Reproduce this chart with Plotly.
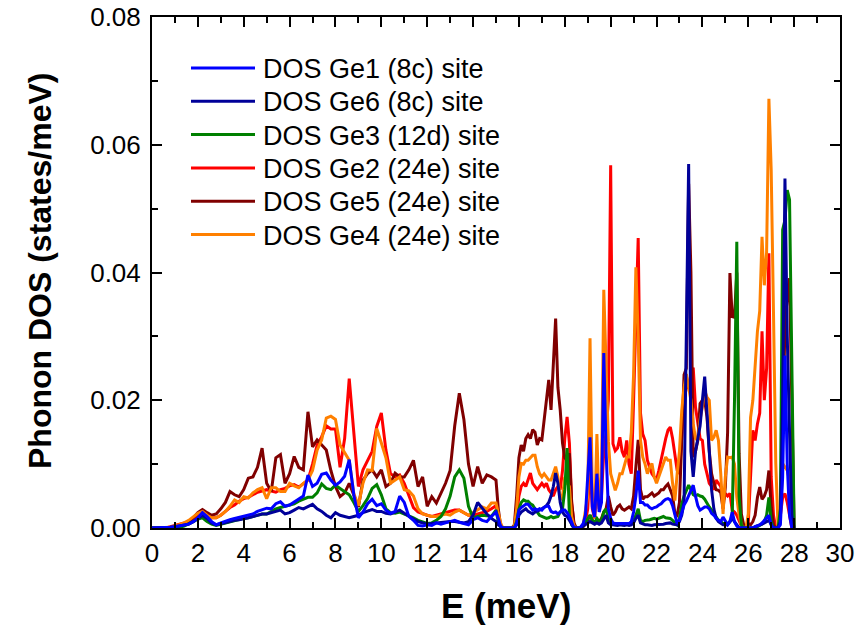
import plotly.graph_objects as go
import numpy as np

# Energy grid (meV): 0.2 meV steps up to 15 meV, 0.1 meV steps above
energy_low = [round(0.2 * i, 1) for i in range(76)]
energy_high = [round(15.1 + 0.1 * i, 1) for i in range(130)]
energy = energy_low + energy_high

# Partial phonon DOS values, in units of 1e-3 states/meV
ge1_low = [0,0,0,0,0.1,0.2,0.3,0.4,0.6,1.0,
           1.6,2.4,1.8,1.0,0.5,0.8,1.1,1.3,1.5,1.7,
           1.8,2.0,2.2,2.6,2.8,3.1,3.0,3.8,4.1,3.4,
           3.6,4.1,4.5,5.0,8.3,6.5,7.0,8.4,8.6,7.5,
           6.7,7.2,8.1,10.7,5.2,1.6,2.5,3.8,4.5,3.5,
           3.8,2.8,2.3,2.6,5.0,4.0,1.8,1.2,0.4,0.3,
           0.5,0.4,0.8,0.6,0.8,1.0,1.2,0.9,0.7,0.5,
           1.3,1.6,1.2,1.0,1.8,2.5]
ge1_high = [1.5,0.3,0,0,0,0,0,0,0.8,2.8,
            3.2,3.4,3.7,3.7,3.2,2.8,3.0,2.8,3.0,2.8,
            3.2,3.4,3.4,2.6,2.4,2.5,2.2,2.5,2.8,2.8,
            2.4,1.8,1.0,0,0,0,0.2,0.7,2.0,8.0,
            14.2,3.3,1.7,8.5,2.5,4.0,27.4,12.0,3.0,1.5,
            0.8,0.7,0.7,0.6,0.7,0.7,0.6,0.7,1.0,2.5,
            5.0,9.0,4.0,4.0,3.6,3.6,3.2,3.0,3.2,3.3,
            3.6,3.8,4.2,4.5,4.6,4.4,3.5,2.0,0.7,1.2,
            2.5,3.6,4.2,5.0,6.0,6.7,5.0,3.5,2.8,3.0,
            3.3,3.3,3.0,2.3,2.0,1.5,1.2,1.0,1.7,1.0,
            0.5,1.0,2.5,1.0,0.3,0,0,0,0,0,
            0,0,0.2,0.3,0.5,0.8,1.2,1.7,2.0,0.5,
            0,0,0,0.5,8.0,27.0,10.0,2.0,0,0]

ge6_low = [0,0,0,0,0.1,0.2,0.3,0.4,0.6,1.0,
           1.5,2.0,1.5,0.8,0.5,0.7,0.9,1.0,1.2,1.3,
           1.4,1.6,1.8,2.0,2.2,2.2,2.4,2.6,2.8,2.2,
           2.4,2.8,3.2,3.0,3.4,3.7,3.0,2.6,2.0,1.6,
           2.4,2.0,1.8,1.6,1.8,2.0,2.4,2.6,2.9,2.6,
           2.6,2.3,2.2,2.5,2.8,2.3,1.8,1.4,1.0,0.8,
           0.6,0.7,0.8,0.9,1.0,1.0,1.0,0.9,0.8,1.0,
           2.0,4.0,3.0,2.2,1.5,1.0]
ge6_high = [0.5,0.2,0,0,0,0,0,0,0.5,2.0,
            2.5,2.8,3.0,2.6,2.4,2.2,2.5,2.6,2.8,3.0,
            3.2,3.5,4.0,5.0,6.5,8.6,7.0,4.0,2.5,2.0,
            1.8,1.2,0.5,0,0,0,0,0.3,0.5,0.8,
            1.0,0.8,0.6,0.8,0.6,0.8,1.5,2.0,0.8,0.5,
            0.5,0.4,0.4,0.5,0.4,0.4,0.5,0.4,0.5,0.8,
            1.5,2.0,0.8,0.6,0.5,0.5,0.4,0.4,0.5,0.5,
            0.5,0.6,0.6,0.7,0.8,0.8,0.6,0.5,0.5,1.0,
            2.0,4.0,35.0,57.0,12.0,8.0,12.0,14.0,16.0,20.0,
            23.7,18.0,12.0,6.0,3.0,1.5,1.0,0.8,0.5,0.5,
            0.5,1.0,1.5,1.0,0.5,0,0,0,0,0,
            0,0,0.2,0.3,0.4,0.6,0.8,1.0,1.2,0.5,
            0,0,0,1.0,20.0,54.7,30.0,15.0,2.0,0]

ge3_low = [0,0,0,0,0,0,0.1,0.3,0.6,1.0,
           1.4,1.6,1.0,0.6,0.4,0.6,0.8,1.0,1.2,1.4,
           1.5,1.6,1.8,2.0,2.2,2.2,2.6,3.0,3.2,3.4,
           3.5,3.8,4.2,4.5,4.8,4.8,5.5,6.9,6.2,6.0,
           6.7,6.2,5.7,5.2,4.0,2.6,3.5,4.6,6.2,6.8,
           5.2,3.0,2.4,2.3,2.5,2.2,2.0,1.6,1.2,0.9,
           0.7,0.8,1.2,1.8,3.0,5.0,8.0,9.1,7.8,3.4,
           1.6,1.8,2.0,1.9,1.8,2.8]
ge3_high = [1.0,0.2,0,0,0,0,0,0,1.0,3.0,
            4.0,4.4,4.2,4.2,3.8,3.6,3.0,2.5,2.0,1.8,
            1.6,1.5,1.6,1.8,1.6,1.7,1.8,2.5,3.0,6.0,
            12.5,2.0,0.5,0,0,0,0,0.3,0.8,1.5,
            2.0,1.2,0.8,1.5,1.0,1.2,2.5,3.0,1.5,0.8,
            0.6,0.5,0.5,0.6,0.5,0.5,0.6,0.6,0.8,1.2,
            2.0,3.0,1.2,1.0,1.2,1.2,1.3,1.4,1.5,1.4,
            1.5,1.6,1.8,1.6,1.6,1.5,1.2,0.8,0.5,1.5,
            3.8,5.0,6.0,6.7,6.0,5.2,5.0,5.2,5.0,4.9,
            4.5,3.8,3.3,2.8,2.3,1.8,1.2,1.0,0.7,0.7,
            0.7,1.0,1.5,20.0,44.8,5.0,0.5,0,0,0,
            0,0,0,0.2,0.4,0.6,1.0,2.0,4.8,1.0,
            0,0,0,3.0,46.7,48.2,52.9,51.4,25.0,0]

ge2_low = [0,0,0,0,0.2,0.4,0.6,0.8,1.0,1.4,
           2.0,2.6,2.0,1.6,1.6,2.0,2.6,3.2,3.6,4.2,
           4.6,4.8,5.2,5.6,5.8,6.0,5.8,5.6,6.0,6.2,
           6.6,6.8,6.4,7.0,7.5,10.0,13.0,14.3,16.0,15.5,
           15.5,9.5,14.0,23.4,15.0,6.5,9.1,10.6,12.0,15.9,
           18.0,12.2,8.5,8.0,8.3,7.0,5.0,3.2,2.5,2.2,
           2.0,1.8,2.0,2.2,2.3,2.5,2.8,2.8,2.4,2.0,
           2.0,2.2,2.4,2.6,3.0,3.5]
ge2_high = [2.0,0.5,0,0,0,0,0,0,2.0,5.0,
            6.5,7.0,6.5,7.5,8.6,7.0,6.5,6.0,6.5,7.0,
            6.5,7.0,6.0,5.5,5.0,6.0,6.5,6.0,9.0,14.0,
            17.4,13.3,4.0,0.5,0,0,0,0.3,1.0,3.0,
            10.0,3.0,1.5,6.0,3.0,5.0,12.0,15.0,20.0,56.8,
            13.2,12.1,12.5,14.2,12.0,11.1,13.7,10.0,8.5,20.0,
            35.0,45.4,18.0,14.7,13.7,10.6,9.5,8.5,8.0,7.5,
            9.0,10.6,12.7,14.0,15.3,15.8,14.0,11.1,9.0,8.5,
            15.0,20.0,22.0,22.0,24.1,25.1,18.9,16.0,14.0,13.7,
            10.0,8.5,7.0,6.5,6.0,7.5,7.0,6.5,4.0,5.4,
            5.0,5.4,2.8,2.5,2.0,1.0,0.3,0,0,0.7,
            8.0,15.3,13.7,16.3,18.0,30.8,20.0,25.0,43.0,8.0,
            2.0,0,0,2.0,4.8,5.4,4.0,2.0,0,0]

ge5_low = [0,0,0,0,0,0.2,0.4,0.6,1.0,1.6,
           2.4,2.9,2.4,2.0,2.2,3.0,4.0,5.7,5.2,4.9,
           6.0,7.8,8.0,9.5,12.5,7.0,5.7,11.0,11.5,7.0,
           8.5,11.2,9.5,9.1,18.2,12.7,13.8,13.0,12.2,9.0,
           6.5,4.9,5.5,7.0,5.0,3.3,7.5,8.5,9.1,8.0,
           9.1,6.5,7.0,8.6,8.0,8.0,9.1,10.6,6.5,8.0,
           3.4,4.9,3.9,5.4,7.0,9.0,16.0,21.1,17.0,10.0,
           6.5,9.6,7.0,8.3,8.0,7.5]
ge5_high = [3.0,0.4,0,0,0,0,0,0.5,5.0,11.0,
            13.0,12.0,14.0,14.6,14.0,15.4,15.0,13.0,14.0,13.8,
            17.0,19.5,23.2,18.5,25.0,32.8,22.0,18.5,13.3,11.0,
            10.6,11.7,3.9,0.8,0,0,0,0.2,0.6,1.2,
            2.0,1.2,0.8,1.2,1.0,1.5,2.5,3.0,5.0,3.3,
            2.0,2.5,3.3,3.6,3.0,2.8,3.0,3.3,3.0,5.0,
            9.6,13.8,6.0,4.5,4.9,4.9,5.2,5.5,5.0,5.2,
            5.5,6.0,6.0,6.5,6.9,6.0,5.0,2.3,2.0,4.0,
            13.7,24.0,25.0,53.9,40.0,11.1,12.0,13.7,19.5,20.0,
            20.0,17.4,12.0,8.5,7.0,6.0,5.9,5.5,3.0,6.4,
            15.0,39.9,33.1,33.0,40.0,11.6,2.2,0.5,0.3,0.7,
            0.5,1.0,2.0,4.8,6.4,4.5,5.0,6.0,9.0,3.2,
            0.5,0,0,2.0,14.0,32.0,36.0,39.1,20.0,0]

ge4_low = [0,0,0,0,0.1,0.3,0.5,0.8,1.2,1.8,
           2.3,2.6,2.0,1.6,1.6,2.0,2.6,3.4,4.4,4.0,
           4.9,4.7,5.5,6.0,6.3,4.6,6.3,6.3,5.7,5.7,
           7.0,6.6,6.3,7.0,7.5,9.0,12.2,13.8,17.2,17.5,
           17.0,13.0,11.7,10.6,5.4,3.5,7.0,9.1,9.0,15.6,
           13.3,11.0,7.0,7.5,8.0,6.0,5.8,5.0,3.0,2.2,
           2.0,1.8,1.8,2.0,2.2,2.0,2.5,2.8,2.4,2.0,
           2.4,2.8,3.3,3.0,3.9,3.9]
ge4_high = [2.5,0.8,0,0,0,0,0,0.3,3.0,8.0,
            10.1,10.0,10.6,10.6,11.0,11.4,11.4,9.6,8.5,8.0,
            8.5,8.0,7.5,7.5,8.5,9.6,8.0,4.4,5.0,8.0,
            7.0,6.5,1.8,0.3,0,0,0,0.5,2.5,5.0,
            29.7,5.0,1.5,14.7,2.6,8.0,37.3,25.0,13.6,8.5,
            7.0,5.9,7.0,8.5,8.5,10.0,11.1,11.1,15.0,24.1,
            40.8,30.0,13.8,11.1,10.0,8.5,9.5,10.1,8.0,7.0,
            8.0,9.0,10.0,11.1,10.6,10.6,7.0,4.3,8.5,12.0,
            18.4,22.0,24.1,22.0,20.0,16.3,14.0,13.7,17.0,19.0,
            21.5,20.5,20.0,13.7,14.2,15.3,13.7,8.5,2.2,8.0,
            11.1,11.0,11.1,10.0,4.8,2.0,0.5,0,0,2.2,
            17.3,20.0,26.0,30.8,34.0,45.6,38.0,43.2,67.2,56.0,
            33.7,10.1,0,2.0,10.1,9.6,9.0,7.5,0.5,0]

series_names = ["DOS Ge1 (8c) site", "DOS Ge6 (8c) site", "DOS Ge3 (12d) site",
                "DOS Ge2 (24e) site", "DOS Ge5 (24e) site", "DOS Ge4 (24e) site"]
series_values = [ge1_low + ge1_high, ge6_low + ge6_high, ge3_low + ge3_high,
                 ge2_low + ge2_high, ge5_low + ge5_high, ge4_low + ge4_high]
series_colors = ["#0000FF", "#000099", "#008000", "#FF0000", "#800000", "#FF8000"]

# drawing order: red, dark red, orange, green, navy, blue (blue on top)
draw_order = [3, 4, 5, 2, 1, 0]

FONT = "Liberation Sans, Arial, sans-serif"
W, H = 859, 635
ML, MT = 152, 17
PW, PH = 688, 511
MR, MB = W - ML - PW, H - MT - PH

fig = go.Figure()
for idx in draw_order:
    vals = np.array(series_values[idx]) / 1000.0
    fig.add_trace(go.Scatter(
        x=energy, y=vals, mode="lines", name=series_names[idx],
        line=dict(color=series_colors[idx], width=3),
        showlegend=False,
    ))

axis_common = dict(
    showline=True, linewidth=2, linecolor="black", mirror="ticks",
    ticks="inside", ticklen=10, tickwidth=2, tickcolor="black",
    showgrid=False, zeroline=False, automargin=False,
    ticklabeloverflow="allow",
    tickfont=dict(family=FONT, size=26, color="black"),
)

fig.update_xaxes(
    range=[0, 30.0001], tick0=0, dtick=2, ticklabelstandoff=1,
    minor=dict(ticks="inside", dtick=1, ticklen=6, tickwidth=2, tickcolor="black"),
    **axis_common,
)
fig.update_yaxes(
    range=[0, 0.080001], tick0=0, dtick=0.02, tickformat=".2f", ticklabelstandoff=4,
    minor=dict(ticks="inside", dtick=0.01, ticklen=6, tickwidth=2, tickcolor="black"),
    **axis_common,
)

# helpers: page pixel -> paper fraction
def px_x(p):
    return (p - ML) / PW

def px_y(p):
    return 1 - (p - MT) / PH

annotations = [
    dict(text="<b>E (meV)</b>", xref="paper", yref="paper",
         x=px_x(506), y=px_y(605), xanchor="center", yanchor="middle",
         showarrow=False, font=dict(family=FONT, size=35, color="black")),
    dict(text="<b>Phonon DOS (states/meV)</b>", xref="paper", yref="paper",
         x=px_x(40), y=px_y(271), xanchor="center", yanchor="middle", textangle=-90,
         showarrow=False, font=dict(family=FONT, size=32, color="black")),
]
shapes = []
# legend built from the series names/colours
for i, name in enumerate(series_names):
    yc = 68 + i * 33.3
    shapes.append(dict(type="line", xref="paper", yref="paper",
                       x0=px_x(191), x1=px_x(255), y0=px_y(yc), y1=px_y(yc),
                       line=dict(color=series_colors[i], width=3)))
    annotations.append(dict(text=name, xref="paper", yref="paper",
                            x=px_x(261), y=px_y(yc + 1), xanchor="left", yanchor="middle",
                            showarrow=False, font=dict(family=FONT, size=27, color="black")))

fig.update_layout(
    width=W, height=H,
    margin=dict(l=ML, r=MR, t=MT, b=MB, autoexpand=False),
    plot_bgcolor="white", paper_bgcolor="white",
    font=dict(family=FONT, color="black"),
    showlegend=False,
    annotations=annotations, shapes=shapes,
)

fig.write_html("out.html",
               config={"displayModeBar": False},
               post_script="document.body.style.margin='0';document.body.style.overflow='hidden';")
